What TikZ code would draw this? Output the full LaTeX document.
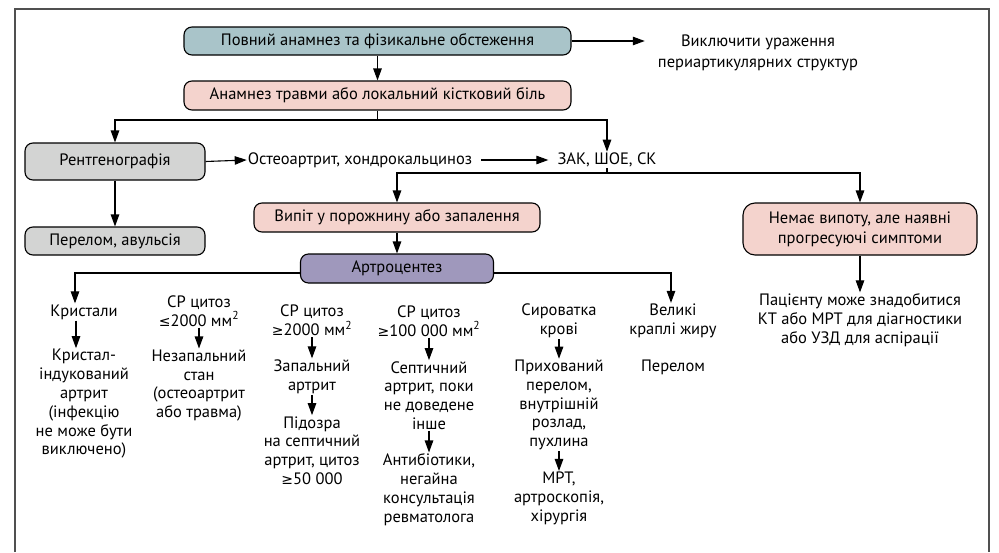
\documentclass[tikz,border=0pt]{standalone}
\usepackage{fontspec}
\setmainfont{PT Sans}
\newfontfamily\symf{DejaVu Sans}
\newcommand{\myle}{{\symf\fontsize{14}{14}\selectfont ≤}}
\newcommand{\myge}{{\symf\fontsize{14}{14}\selectfont ≥}}
\usetikzlibrary{arrows.meta,calc}
\definecolor{bluec}{HTML}{A9C4C9}
\definecolor{pinkc}{HTML}{F4D3CD}
\definecolor{greyc}{HTML}{D3D4D3}
\definecolor{purc}{HTML}{9F98BC}
\definecolor{framec}{HTML}{505050}
\begin{document}
\begin{tikzpicture}[x=1pt,y=-1pt,
  every node/.style={font=\fontsize{16.5}{18.8}\selectfont},
  box/.style={draw=black, line width=1.1pt, rounded corners=8pt, minimum height=28pt, inner sep=2pt, align=center},
  arr/.style={line width=1.1pt, -{Triangle[length=12pt,width=8.5pt]}},
  ln/.style={line width=1.1pt},
  txt/.style={align=center, inner sep=1pt},
]
\useasboundingbox (0,0) rectangle (999,552);
\draw[line width=1.5pt, color=framec] (15,552) -- (15,9) -- (989,9) -- (989,552);

% top boxes
\node[box, fill=bluec, minimum width=387pt] (box1) at (377.5,41) {Повний анамнез та фізикальне обстеження};
\node[txt, font=\fontsize{16.5}{21}\selectfont] (excl) at (758,52.5) {Виключити ураження\\периартикулярних структур};
\draw[arr] (box1.east) -- ($(box1.east -| excl.west)+(-12,0)$);
\node[box, fill=pinkc, minimum width=387pt, minimum height=29pt] (box2) at (377.5,95.5) {Анамнез травми або локальний кістковий біль};
\draw[arr] (box1.south) -- (box2.north);

% x-ray row
\node[box, fill=greyc, minimum width=180pt, minimum height=37pt] (rtg) at (115,161.5) {Рентгенографія};
\node[txt] (osteo) at (360,160) {Остеоартрит, хондрокальциноз};
\node[txt] (zak) at (607,160) {ЗАК, ШОЕ, СК};
\coordinate (s1) at (377.5,120);
\draw[ln] (box2.south) -- (s1);
\draw[arr] (s1) -| (rtg.north);
\draw[arr] (s1) -| (zak.north);
\draw[arr] (rtg.east) -- (osteo.west);
\draw[arr] ($(osteo.east)+(8,0)$) -- ($(zak.west)+(-8,0)$);

\node[box, fill=greyc, minimum width=180pt] (perelom) at (115,241) {Перелом, авульсія};
\draw[arr] (rtg.south) -- (perelom.north);

\node[box, fill=pinkc, minimum width=286pt, minimum height=29pt] (vypit) at (397,217.5) {Випіт у порожнину або запалення};
\node[box, fill=pinkc, minimum width=234pt, minimum height=52pt, rounded corners=12pt, font=\fontsize{16.5}{20}\selectfont] (nemae) at (860,229) {Немає випоту, але наявні\\прогресуючі симптоми};
\coordinate (s2) at (607,173);
\draw[ln] (zak.south) -- (s2);
\draw[arr] (s2) -| (vypit.north);
\draw[arr] (s2) -| (nemae.north);

\node[box, fill=purc, minimum width=193pt, minimum height=29pt] (artro) at (397,268.5) {Артроцентез};
\draw[arr] (vypit.south) -- (artro.north);

% columns
\node[txt] (k1) at (84,312) {Кристали};
\node[txt] (k2) at (84,404) {Кристал-\\індукований\\артрит\\(інфекцію\\не може бути\\виключено)};
\node[txt] (a1) at (199,311) {СР цитоз\\\myle2000 мм\textsuperscript{2}};
\node[txt] (a2) at (199,385.5) {Незапальний\\стан\\(остеоартрит\\або травма)};
\node[txt] (b1) at (312,320.5) {СР цитоз\\\myge2000 мм\textsuperscript{2}};
\node[txt] (b2) at (312,376.5) {Запальний\\артрит};
\node[txt] (b3) at (312,450.5) {Підозра\\на септичний\\артрит, цитоз\\\myge50 000};
\node[txt] (c1) at (429,321) {СР цитоз\\\myge100 000 мм\textsuperscript{2}};
\node[txt] (c2) at (429,395.5) {Септичний\\артрит, поки\\не доведене\\інше};
\node[txt] (c3) at (429,489.5) {Антибіотики,\\негайна\\консультація\\ревматолога};
\node[txt] (d1) at (559,321) {Сироватка\\крові};
\node[txt] (d2) at (559,405) {Прихований\\перелом,\\внутрішній\\розлад,\\пухлина};
\node[txt] (d3) at (559,498.5) {МРТ,\\артроскопія,\\хірургія};
\node[txt] (f1) at (673,321) {Великі\\краплі жиру};
\node[txt] (f2) at (673,367) {Перелом};
\node[txt] (g1) at (860,320) {Пацієнту може знадобитися\\КТ або МРТ для діагностики\\або УЗД для аспірації};

\coordinate (jl) at (75,273);
\coordinate (jr) at (671,273);
\draw[arr] ($(artro.west)+(0,4.5)$) -- (jl) -- (jl |- k1.north);
\draw[arr] ($(artro.east)+(0,4.5)$) -- (jr) -- (jr |- f1.north);
\draw[arr] (nemae.south) -- (g1.north);

\coordinate (x1) at (76,0);
\draw[arr] (k1.south -| x1) -- (k2.north -| x1);
\draw[arr] (a1.south) -- (a2.north);
\draw[arr] (b1.south) -- (b2.north);
\draw[arr] (b2.south) -- (b3.north);
\draw[arr] (c1.south) -- (c2.north);
\draw[arr] (c2.south) -- (c3.north);
\draw[arr] (d1.south) -- (d2.north);
\draw[arr] (d2.south) -- (d3.north);
\end{tikzpicture}
\end{document}
